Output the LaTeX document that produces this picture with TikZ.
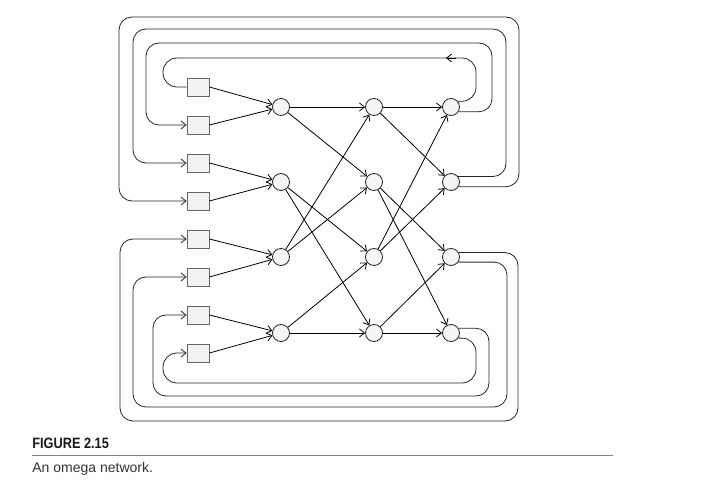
\documentclass[tikz,border=0pt]{standalone}
\usepackage{fontspec}
\setmainfont{Liberation Sans}
\newfontfamily\capfont[FakeStretch=0.85]{Liberation Sans}
\usetikzlibrary{arrows.meta}
\begin{document}
\begin{tikzpicture}[x=1pt,y=-1pt,
  line width=0.8pt,
  arr/.style={-{Straight Barb[length=5pt,width=8pt]}},
  box/.style={draw=black!60, fill=black!5, minimum width=22pt, minimum height=18pt, inner sep=0pt},
  sw/.style={circle, draw=black!85, fill=black!4, minimum size=17pt, inner sep=0pt},
  wrap/.style={draw=black!85, rounded corners=13pt},
  wraparr/.style={wrap, arr}]
\useasboundingbox (0,0) rectangle (705,497);
% input boxes
\foreach \i/\y in {1/87,2/125,3/163,4/201,5/239,6/277,7/315,8/353}
  \node[box] (b\i) at (198,\y) {};
% switches
\foreach \c/\x in {1/281,2/374,3/451}
  \foreach \r/\y in {1/107,2/182,3/257,4/333}
    \node[sw] (c\c\r) at (\x,\y) {};
% boxes to first stage
\foreach \i/\s in {1/1,2/1,3/2,4/2,5/3,6/3,7/4,8/4}
  \draw[arr] (b\i.east) -- (c1\s);
% perfect shuffles
\foreach \a/\b in {1/2,2/3}{
  \draw[arr] (c\a1) -- (c\b1);
  \draw[arr] (c\a1) -- (c\b2);
  \draw[arr] (c\a2) -- (c\b3);
  \draw[arr] (c\a2) -- (c\b4);
  \draw[arr] (c\a3) -- (c\b1);
  \draw[arr] (c\a3) -- (c\b2);
  \draw[arr] (c\a4) -- (c\b3);
  \draw[arr] (c\a4) -- (c\b4);
}
% wrap-around connections (top)
\draw[wrap, rounded corners=14pt] (c31.40) -| (476,58) -| (163,87) -- (b1.west);
\coordinate (m1) at (456,58);
\coordinate (m2) at (446,58);
\draw[arr] (m1) -- (m2);
\draw[wraparr] (c31.-32) -| (492,43) -| (146,125) -- (b2.west);
\draw[wraparr] (c32.38) -| (506,29) -| (133,163) -- (b3.west);
\draw[wraparr] (c32.-32) -| (519,17) -| (119,201) -- (b4.west);
% wrap-around connections (bottom)
\draw[wraparr] (c33.30) -| (518,421) -| (120,239) -- (b5.west);
\draw[wraparr] (c33.-35) -| (507,407) -| (133,277) -- (b6.west);
\draw[wraparr] (c34.32) -| (489,396) -| (153,315) -- (b7.west);
\draw[wraparr, rounded corners=14pt] (c34.-35) -| (476,383) -| (163,353) -- (b8.west);
% caption
\node[anchor=base west, inner sep=0pt, font=\capfont\bfseries\fontsize{15}{17}\selectfont, text=black!90] (fig) at (32,449) {FIGURE 2.15};
\coordinate (r1) at (32,455.5);
\coordinate (r2) at (613,455.5);
\draw[black!50, line width=1.8pt] (r1) -- (r2);
\node[anchor=base west, inner sep=0pt, font=\fontsize{14}{16}\selectfont, text=black!80] (cap) at (32,472) {An omega network.};
\end{tikzpicture}
\end{document}
